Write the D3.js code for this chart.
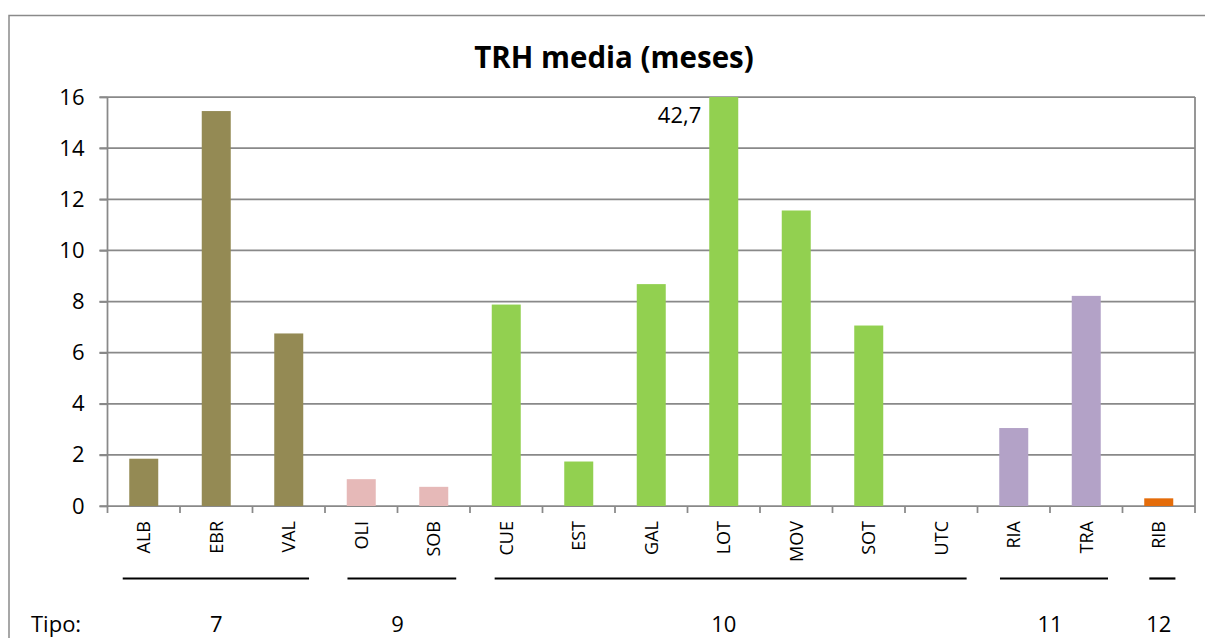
<!DOCTYPE html>
<html>
<head>
<meta charset="utf-8">
<script src="https://cdn.jsdelivr.net/npm/d3@7/dist/d3.min.js"></script>
<style>
  html, body { margin: 0; padding: 0; background: #fff; }
  svg { display: block; font-family: "Open Sans", Lato, sans-serif; }
</style>
</head>
<body>
<div id="chart"></div>
<script>
// data
var categories = ['ALB', 'EBR', 'VAL', 'OLI', 'SOB', 'CUE', 'EST', 'GAL', 'LOT', 'MOV', 'SOT', 'UTC', 'RIA', 'TRA', 'RIB']
var values = [1.85, 15.45, 6.75, 1.05, 0.75, 7.88, 1.74, 8.68, 42.7, 11.56, 7.06, 0, 3.05, 8.22, 0.3]
var tipos = [7, 7, 7, 9, 9, 10, 10, 10, 10, 10, 10, 10, 11, 11, 12]
var groups = [7, 9, 10, 11, 12]
var groupColors = ['#948A54', '#E6B9B8', '#92D050', '#B3A2C7', '#E46C0A']
// hand drawn group underline, in category units
var groupLineFrom = [0.21, 3.31, 5.34, 12.31, 14.37]
var groupLineTo = [2.78, 4.81, 11.85, 13.8, 14.73]
var yTicks = [0, 2, 4, 6, 8, 10, 12, 14, 16]

var W = 1205, H = 638
var margin = {top: 97, right: 10, bottom: 132, left: 107.5}
var width = 1195 - margin.left
var height = 506 - margin.top

var svg = d3.select('#chart')
    .append('svg')
    .attr('width', W)
    .attr('height', H)

// outer chart area border (cropped by the picture)
svg.append('rect')
    .attr('x', 9).attr('y', 15.5)
    .attr('width', 1300).attr('height', 700)
    .attr('fill', 'none')
    .attr('stroke', '#8a8a8a')
    .attr('stroke-width', 1.5)

svg.append('text')
    .attr('x', 614).attr('y', 68)
    .attr('text-anchor', 'middle')
    .attr('font-size', 29.5)
    .attr('font-weight', 'bold')
    .attr('fill', '#000')
    .text('TRH media (meses)')

var g = svg.append('g')
    .attr('transform', `translate(${margin.left}, ${margin.top})`)

var xScale = d3.scaleBand().domain(categories).range([0, width]).paddingInner(0.6).paddingOuter(0.3)
var catScale = d3.scaleLinear().domain([0, categories.length]).range([0, width])
var yScale = d3.scaleLinear().domain([0, 16]).range([height, 0])

var color = d3.scaleOrdinal().domain(groups).range(groupColors)

// gridlines
g.append('g')
    .selectAll('line')
    .data(yTicks)
    .enter().append('line')
    .attr('x1', -8).attr('x2', width)
    .attr('y1', d => yScale(d)).attr('y2', d => yScale(d))
    .attr('stroke', '#898989')
    .attr('stroke-width', 1.75)

// plot area right border
g.append('line')
    .attr('x1', width).attr('x2', width)
    .attr('y1', 0).attr('y2', height + 7)
    .attr('stroke', '#898989')
    .attr('stroke-width', 1.75)

// y axis
var yAxis = g.append('g')
    .call(d3.axisLeft(yScale).tickValues(yTicks).tickSize(8).tickPadding(15))
yAxis.select('.domain').remove()
yAxis.selectAll('line').attr('stroke', '#898989').attr('stroke-width', 1.75)
yAxis.selectAll('text')
    .attr('font-family', '"Open Sans", sans-serif')
    .attr('font-size', 22)
    .attr('fill', '#000')

g.append('line')
    .attr('x1', 0).attr('x2', 0)
    .attr('y1', 0).attr('y2', height + 7)
    .attr('stroke', '#898989')
    .attr('stroke-width', 1.75)

// category boundary ticks
g.append('g')
    .selectAll('line')
    .data(d3.range(1, categories.length))
    .enter().append('line')
    .attr('x1', d => catScale(d)).attr('x2', d => catScale(d))
    .attr('y1', height).attr('y2', height + 7)
    .attr('stroke', '#898989')
    .attr('stroke-width', 1.75)

// bars
g.append('g')
    .selectAll('rect')
    .data(categories)
    .enter().append('rect')
    .attr('x', d => xScale(d))
    .attr('width', xScale.bandwidth())
    .attr('y', (d, i) => yScale(Math.min(values[i], 16)))
    .attr('height', (d, i) => height - yScale(Math.min(values[i], 16)))
    .attr('fill', (d, i) => color(tipos[i]))

// label for the clipped bar
categories.forEach((c, i) => {
    if (values[i] > 16) {
        g.append('text')
            .attr('x', xScale(c) - 8)
            .attr('y', 26)
            .attr('text-anchor', 'end')
            .attr('font-size', 22)
            .attr('fill', '#000')
            .text(String(values[i]).replace('.', ','))
    }
})

// category labels, rotated
g.append('g')
    .selectAll('text')
    .data(categories)
    .enter().append('text')
    .attr('transform', d => `translate(${xScale(d) + xScale.bandwidth() / 2}, ${height + 15}) rotate(-90)`)
    .attr('text-anchor', 'end')
    .attr('dy', '0.36em')
    .attr('font-size', 18)
    .attr('fill', '#000')
    .text(d => d)

// group underlines and group numbers
groups.forEach((t, k) => {
    var idx = tipos.map((v, i) => v == t ? i : -1).filter(i => i >= 0)
    var first = d3.min(idx), last = d3.max(idx) + 1

    g.append('line')
        .attr('x1', catScale(groupLineFrom[k])).attr('x2', catScale(groupLineTo[k]))
        .attr('y1', 481.5).attr('y2', 481.5)
        .attr('stroke', '#000')
        .attr('stroke-width', 2.2)

    g.append('text')
        .attr('x', (catScale(first) + catScale(last)) / 2)
        .attr('y', 535)
        .attr('text-anchor', 'middle')
        .attr('font-size', 22)
        .attr('fill', '#000')
        .text(t)
})

svg.append('text')
    .attr('x', 31)
    .attr('y', 632)
    .attr('font-size', 22)
    .attr('fill', '#000')
    .text('Tipo:')
</script>
</body>
</html>
